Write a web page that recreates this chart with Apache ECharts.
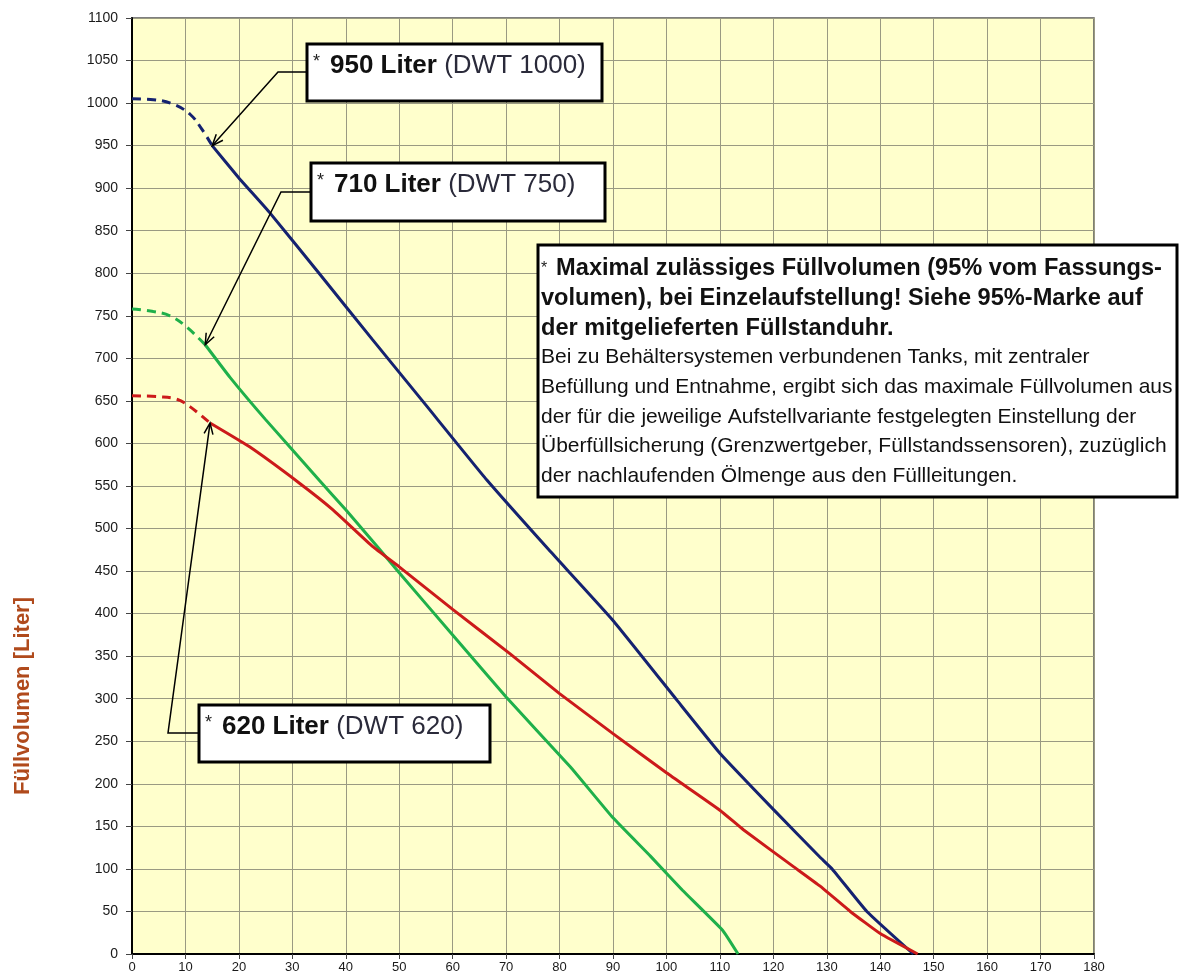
<!DOCTYPE html>
<html><head><meta charset="utf-8">
<script src="https://cdn.jsdelivr.net/npm/echarts@6/dist/echarts.min.js"></script>
<style>html,body{margin:0;padding:0;background:#fff}#c{width:1186px;height:979px}</style>
</head><body><div id="c"></div>
<script>
// ---- data ----
const xTickInterval = 10;
const yTickInterval = 50;
const dwt1000Dashed = [[0,1005],[4,1004],[8,998],[11,986],[13,970],[15,950]];
const dwt1000Solid = [[15,950],[20,912],[25.8,871],[35,800],[45,722],[55,645],[66.4,557],[78,475],[90,392],[102,298],[110,236],[120,170],[128.7,114],[131,100],[137.5,50],[146.2,0]];
const dwt750Dashed = [[0,758],[4,755],[7.1,750],[10.2,737],[13.7,716]];
const dwt750Solid = [[13.7,716],[18.3,678],[25,628],[35,557],[40,522],[46,478],[50,448],[60,375],[70,302],[82,220],[90,160],[97,115],[103,75],[110.5,28],[113.4,0]];
const dwt620Dashed = [[0,656],[5,655],[8.4,652],[10.9,643],[14.6,624]];
const dwt620Solid = [[14.6,624],[22,596],[31.4,553],[37.6,522],[45,479],[50,455],[60,405],[70.7,353],[80,306],[90,259],[100,213],[110,169],[114.4,146],[123.7,103],[128.7,80],[134.4,50],[140,24],[147,0]];
const annotationTips = [[15,950],[13.7,716],[14.6,624]];
const annotationLabels = [
  ['950 Liter','(DWT 1000)'],
  ['710 Liter','(DWT 750)'],
  ['620 Liter','(DWT 620)']
];
const yAxisTitle = 'Füllvolumen [Liter]';
const noteBold = ['Maximal zulässiges Füllvolumen (95% vom Fassungs-','volumen), bei Einzelaufstellung! Siehe 95%-Marke auf','der mitgelieferten Füllstanduhr.'];
const noteNormal = ['Bei zu Behältersystemen verbundenen Tanks, mit zentraler','Befüllung und Entnahme, ergibt sich das maximale Füllvolumen aus','der für die jeweilige Aufstellvariante festgelegten Einstellung der','Überfüllsicherung (Grenzwertgeber, Füllstandssensoren), zuzüglich','der nachlaufenden Ölmenge aus den Füllleitungen.'];

// ---- chart ----
const FONT = '"Liberation Sans", Arial, sans-serif';
const BLUE = '#152270', GREEN = '#1fb04a', RED = '#cc1a1a';
const chart = echarts.init(document.getElementById('c'));

function ser(data, color, dashed){
  return {type:'line', data, showSymbol:false, symbol:'none', smooth: dashed ? 0.4 : 0.12,
    lineStyle:{color, width:3, type: dashed ? [9,6] : 'solid'}, z:3, animation:false};
}

chart.setOption({
  animation:false,
  backgroundColor:'#ffffff',
  grid:{left:132, right:92, top:18, bottom:25, show:true, backgroundColor:'#FFFFCC', borderColor:'#555', borderWidth:1.5},
  xAxis:{type:'value', min:0, max:180, interval:xTickInterval,
    axisLine:{show:true, lineStyle:{color:'#000', width:2}},
    axisTick:{show:true, length:5, lineStyle:{color:'#444'}},
    axisLabel:{color:'#1a1a1a', fontSize:13, fontFamily:FONT, margin:7, formatter:v => String(v)},
    splitLine:{show:true, lineStyle:{color:'#9a9a82', width:1}}},
  yAxis:{type:'value', min:0, max:1100, interval:yTickInterval,
    axisLine:{show:true, lineStyle:{color:'#000', width:2}},
    axisTick:{show:true, length:6, lineStyle:{color:'#444'}},
    axisLabel:{color:'#1a1a1a', fontSize:14, fontFamily:FONT, margin:14, formatter:v => String(v)},
    splitLine:{show:true, lineStyle:{color:'#9a9a82', width:1}}},
  series:[
    ser(dwt1000Dashed, BLUE, true), ser(dwt1000Solid, BLUE, false),
    ser(dwt750Dashed, GREEN, true), ser(dwt750Solid, GREEN, false),
    ser(dwt620Dashed, RED, true), ser(dwt620Solid, RED, false)
  ]
});

// ---- annotations ----
const boxes = [
  {x:307, y:44, w:295, h:57, tx:313, ty:66, elbowY:72, elbowX:278},
  {x:311, y:163, w:294, h:58, tx:317, ty:185, elbowY:192, elbowX:281},
  {x:199, y:705, w:291, h:57, tx:205, ty:727, elbowY:733, elbowX:168}
];
const g = [];
function arrowHead(from, tip){
  const dx = tip[0]-from[0], dy = tip[1]-from[1];
  const len = Math.hypot(dx,dy); const bx = -dx/len, by = -dy/len;
  const L = 12, a = 0.38, c = Math.cos(a), s = Math.sin(a);
  const p1 = [tip[0]+L*(bx*c - by*s), tip[1]+L*(bx*s + by*c)];
  const p2 = [tip[0]+L*(bx*c + by*s), tip[1]+L*(-bx*s + by*c)];
  return {type:'polyline', z:100, shape:{points:[p1, tip, p2]}, style:{stroke:'#000', lineWidth:1.5, fill:null}};
}
boxes.forEach((b, i) => {
  const tip = chart.convertToPixel({gridIndex:0}, annotationTips[i]);
  const elbow = [b.elbowX, b.elbowY];
  g.push({type:'polyline', z:100, shape:{points:[[b.x, b.elbowY], elbow, tip]}, style:{stroke:'#000', lineWidth:1.5, fill:null}});
  g.push(arrowHead(elbow, tip));
  g.push({type:'rect', z:101, shape:{x:b.x, y:b.y, width:b.w, height:b.h}, style:{fill:'#fff', stroke:'#000', lineWidth:3}});
  g.push({type:'text', z:102, style:{x:b.tx, y:b.ty, verticalAlign:'middle', align:'left',
    text:'{s|*  }{b|' + annotationLabels[i][0] + '}{n| ' + annotationLabels[i][1] + '}',
    rich:{s:{fontSize:18, fontFamily:FONT, fill:'#222', verticalAlign:'top', padding:[0,0,6,0]},
          b:{fontSize:26, fontWeight:'bold', fontFamily:FONT, fill:'#111'},
          n:{fontSize:26, fontFamily:FONT, fill:'#2a2a3a'}}}});
});

// big note box
const noteLines = noteBold.map((t, i) => (i === 0 ? '{s|*  }' : '') + '{b|' + t + '}')
  .concat(noteNormal.map(t => '{n|' + t + '}'));
g.push({type:'rect', z:101, shape:{x:538, y:245, width:639, height:252}, style:{fill:'#fff', stroke:'#000', lineWidth:3}});
g.push({type:'text', z:102, style:{x:541, y:254, align:'left', verticalAlign:'top',
  text: noteLines.join('\n'),
  rich:{s:{fontSize:16, fontFamily:FONT, fill:'#222', lineHeight:29.6},
        b:{fontSize:23.6, fontWeight:'bold', fontFamily:FONT, fill:'#111', lineHeight:29.6},
        n:{fontSize:21, fontFamily:FONT, fill:'#111', lineHeight:29.6}}}});

// y axis title
g.push({type:'text', z:102, x:23, y:696, rotation:Math.PI/2,
  style:{text:yAxisTitle, align:'center', verticalAlign:'middle', font:'bold 22px ' + FONT, fill:'#b04a1c'}});

chart.setOption({graphic:{elements:g}});
</script>
</body></html>
